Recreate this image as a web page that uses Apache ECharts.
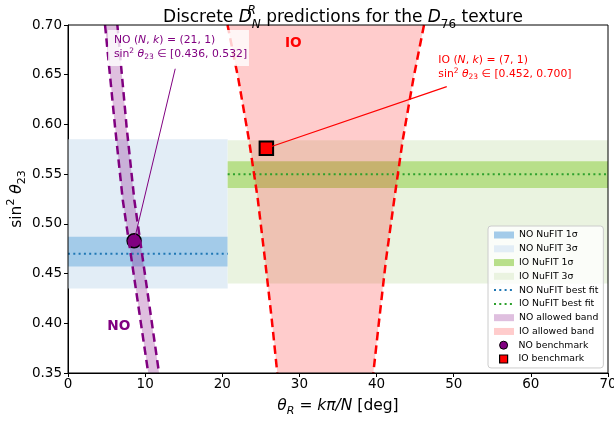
<!DOCTYPE html>
<html>
<head>
<meta charset="utf-8">
<script src="https://cdn.jsdelivr.net/npm/echarts@6/dist/echarts.min.js"></script>
<style>html,body{margin:0;padding:0;background:#fff}#chart{width:614px;height:424px}</style>
</head>
<body>
<div id="chart"></div>
<script>
// NuFIT bands [thetaFrom, thetaTo, low, high]
const noBand3 = [0, 20.7, 0.435, 0.585];
const noBand1 = [0, 20.7, 0.457, 0.487];
const ioBand3 = [20.7, 70, 0.440, 0.584];
const ioBand1 = [20.7, 70, 0.536, 0.563];
const noBest = [[0, 0.470], [20.7, 0.470]];
const ioBest = [[20.7, 0.550], [70, 0.550]];

// allowed bands: sin^2 theta23 levels and the theta edges at each level
const noLevels = [0.70, 0.5974, 0.524, 0.35];
const noLeft = [4.8, 6.1, 7.1, 10.4];
const noRight = [6.4, 7.6, 8.6, 11.8];
const ioLevels = [0.70, 0.645, 0.5843, 0.525, 0.4637, 0.405, 0.35];
const ioLeft = [20.68, 22.1, 23.46, 24.6, 25.54, 26.4, 27.13];
const ioRight = [46.15, 44.75, 43.39, 42.3, 41.22, 40.36, 39.58];

// benchmarks (theta = k*pi/N in deg, sin^2 theta23)
const noPoint = [8.571, 0.483];
const ioPoint = [25.714, 0.576];

// annotation anchors
const noArrow = [[13.9, 0.656], noPoint];
const ioArrow = [[49.1, 0.638], ioPoint];
const noNote = [5.95, 0.685];
const noNoteBox = [[5.19, 0.695], [23.46, 0.6588]];
const ioNote = [48.0, 0.665];
const noTag = [6.6, 0.397];
const ioTag = [29.2, 0.681];

const FONT = 'DejaVu Sans';
const purple = '#800080';
const red = '#ff0000';

var chart = echarts.init(document.getElementById('chart'));

function rectSeries(name, band, color) {
  return {
    name: name,
    type: 'custom',
    data: [band],
    silent: true,
    itemStyle: { color: color },
    renderItem: function (params, api) {
      var p0 = api.coord([api.value(0), api.value(3)]);
      var p1 = api.coord([api.value(1), api.value(2)]);
      return {
        type: 'rect',
        shape: { x: p0[0], y: p0[1], width: p1[0] - p0[0], height: p1[1] - p0[1] },
        style: { fill: color }
      };
    }
  };
}

function bandSeries(name, levels, left, right, color) {
  var pts = left.map((x, i) => [x, levels[i]])
    .concat(right.map((x, i) => [x, levels[i]]).reverse());
  return {
    name: name,
    type: 'custom',
    data: [0],
    silent: true,
    itemStyle: { color: color },
    renderItem: function (params, api) {
      return {
        type: 'polygon',
        shape: { points: pts.map(p => api.coord(p)) },
        style: { fill: color }
      };
    }
  };
}

function edgeSeries(levels, xs, color) {
  return {
    type: 'line',
    data: xs.map((x, i) => [x, levels[i]]),
    symbol: 'none',
    silent: true,
    lineStyle: { color: color, width: 2.5, type: [8.5, 5] }
  };
}

function lineSeries(name, data, color, width, dash) {
  return {
    name: name,
    type: 'line',
    data: data,
    symbol: 'none',
    silent: true,
    itemStyle: { color: color },
    lineStyle: { color: color, width: width, type: dash || 'solid' }
  };
}

const subRich = {
  it: { fontFamily: FONT, fontStyle: 'italic', fontSize: 15.5 },
  sub: { fontFamily: FONT, fontStyle: 'italic', fontSize: 11, verticalAlign: 'bottom' },
  subn: { fontFamily: FONT, fontSize: 11, verticalAlign: 'bottom' },
  sup: { fontFamily: FONT, fontSize: 11, verticalAlign: 'top' }
};

const option = {
  animation: false,
  title: {
    text: 'Discrete {it|D}{r|R}{n|N} predictions for the {it|D}{sub|76} texture',
    left: 338,
    top: 0,
    textAlign: 'center',
    textStyle: {
      fontFamily: FONT, fontSize: 17, fontWeight: 'normal', color: '#000', lineHeight: 26,
      rich: {
        it: { fontFamily: FONT, fontStyle: 'italic', fontSize: 17, color: '#000' },
        r: { fontFamily: FONT, fontStyle: 'italic', fontSize: 12, verticalAlign: 'top', width: 0, color: '#000' },
        n: { fontFamily: FONT, fontStyle: 'italic', fontSize: 12, verticalAlign: 'bottom', color: '#000' },
        sub: { fontFamily: FONT, fontSize: 12, verticalAlign: 'bottom', color: '#000' }
      }
    }
  },
  grid: {
    left: 68, right: 6, top: 25, bottom: 51,
    outerBoundsMode: 'none', containLabel: false,
    show: true, borderColor: '#000', borderWidth: 1, backgroundColor: 'transparent', z: 10
  },
  xAxis: {
    type: 'value', min: 0, max: 70, interval: 10,
    name: '{it|θ}{sub|R} = {it|kπ/N} [deg]',
    nameLocation: 'middle', nameGap: 22, nameMoveOverlap: false,
    nameTextStyle: { fontFamily: FONT, fontSize: 15.5, color: '#000', lineHeight: 22, rich: subRich },
    axisLine: { show: true, lineStyle: { color: '#000' } },
    axisTick: { show: true, length: 4, lineStyle: { color: '#000' } },
    axisLabel: { color: '#000', fontSize: 13.5, fontFamily: FONT, margin: 4 },
    splitLine: { show: false }
  },
  yAxis: {
    type: 'value', min: 0.35, max: 0.70, interval: 0.05,
    name: 'sin{sup|2} {it|θ}{subn|23}',
    nameLocation: 'middle', nameGap: 40, nameRotate: 90, nameMoveOverlap: false,
    nameTextStyle: { fontFamily: FONT, fontSize: 15.5, color: '#000', lineHeight: 22, rich: subRich },
    axisLine: { show: true, lineStyle: { color: '#000' } },
    axisTick: { show: true, length: 4, lineStyle: { color: '#000' } },
    axisLabel: { color: '#000', fontSize: 13.5, fontFamily: FONT, margin: 6, formatter: v => v.toFixed(2) },
    splitLine: { show: false }
  },
  legend: [{
    data: [
      { name: 'NO NuFIT 1σ', icon: 'rect', itemStyle: { color: '#a3cbe9' } },
      { name: 'NO NuFIT 3σ', icon: 'rect', itemStyle: { color: '#e2edf6' } },
      { name: 'IO NuFIT 1σ', icon: 'rect', itemStyle: { color: '#b8df8a' } },
      { name: 'IO NuFIT 3σ', icon: 'rect', itemStyle: { color: '#eaf3e0' } },
      { name: 'NO NuFIT best fit', itemStyle: { opacity: 0 } },
      { name: 'IO NuFIT best fit', itemStyle: { opacity: 0 } },
      { name: 'NO allowed band', icon: 'rect', itemStyle: { color: '#dfbfdf' } },
      { name: 'IO allowed band', icon: 'rect', itemStyle: { color: '#ffcccc' } }
    ],
    orient: 'vertical', left: 488, top: 226,
    padding: [3, 5, 30.5, 5],
    itemWidth: 20, itemHeight: 7, itemGap: 1.78,
    textStyle: { fontFamily: FONT, fontSize: 9.3, color: '#000', lineHeight: 12 },
    backgroundColor: 'rgba(255,255,255,0.8)', borderColor: '#cccccc', borderWidth: 1, borderRadius: 3,
    selectedMode: false
  }, {
    data: [
      { name: 'NO benchmark', icon: 'circle', itemStyle: { color: purple, borderColor: '#000', borderWidth: 1 } },
      { name: 'IO benchmark', icon: 'path://M0,0M20,8M6,0L14,0L14,8L6,8Z', itemStyle: { color: red, borderColor: '#000', borderWidth: 1.2 } }
    ],
    orient: 'vertical', left: 488, top: 339.2,
    padding: [0, 4, 0, 5],
    itemWidth: 20, itemHeight: 8, itemGap: 1.78,
    textStyle: { fontFamily: FONT, fontSize: 9.3, color: '#000', lineHeight: 12 },
    selectedMode: false
  }],
  series: [
    rectSeries('NO NuFIT 3σ', noBand3, '#e2edf6'),
    rectSeries('NO NuFIT 1σ', noBand1, '#a3cbe9'),
    rectSeries('IO NuFIT 3σ', ioBand3, '#eaf3e0'),
    rectSeries('IO NuFIT 1σ', ioBand1, '#b8df8a'),
    lineSeries('NO NuFIT best fit', noBest, '#1f77b4', 2, [2, 3.3]),
    lineSeries('IO NuFIT best fit', ioBest, '#2ca02c', 2, [2, 3.3]),
    bandSeries('NO allowed band', noLevels, noLeft, noRight, 'rgba(128,0,128,0.25)'),
    bandSeries('IO allowed band', ioLevels, ioLeft, ioRight, 'rgba(255,0,0,0.2)'),
    edgeSeries(noLevels, noLeft, purple),
    edgeSeries(noLevels, noRight, purple),
    edgeSeries(ioLevels, ioLeft, red),
    edgeSeries(ioLevels, ioRight, red),
    lineSeries('', noArrow, purple, 1),
    lineSeries('', ioArrow, red, 1.2),
    {
      name: 'NO benchmark', type: 'scatter', data: [noPoint], symbol: 'circle', symbolSize: 14,
      itemStyle: { color: purple, borderColor: '#000', borderWidth: 1.5, opacity: 1 }, silent: true
    },
    {
      name: 'IO benchmark', type: 'scatter', data: [ioPoint], symbol: 'rect', symbolSize: 13.5,
      itemStyle: { color: red, borderColor: '#000', borderWidth: 2, opacity: 1 }, silent: true
    }
  ]
};

chart.setOption(option);

// annotations placed through the chart's own coordinate system
const px = p => chart.convertToPixel({ gridIndex: 0 }, p);
const noteRich = function (color) {
  return {
    i: { fontFamily: FONT, fontStyle: 'italic', fontSize: 10.8, fill: color },
    sup: { fontFamily: FONT, fontSize: 7.5, verticalAlign: 'top', fill: color },
    sub: { fontFamily: FONT, fontSize: 7.5, verticalAlign: 'bottom', fill: color }
  };
};
const b0 = px(noNoteBox[0]), b1 = px(noNoteBox[1]);
const nn = px(noNote), io = px(ioNote), nt = px(noTag), it = px(ioTag);

chart.setOption({
  graphic: [
    {
      type: 'rect', z: 20,
      shape: { x: b0[0], y: b0[1], width: b1[0] - b0[0], height: b1[1] - b0[1] },
      style: { fill: 'rgba(255,255,255,0.8)' }
    },
    {
      type: 'text', z: 21, x: nn[0], y: nn[1] - 7,
      style: {
        text: 'NO ({i|N}, {i|k}) = (21, 1)\nsin{sup|2} {i|θ}{sub|23} ∈ [0.436, 0.532]',
        fontFamily: FONT, fontSize: 10.8, fill: purple, lineHeight: 14,
        verticalAlign: 'top', align: 'left', rich: noteRich(purple)
      }
    },
    {
      type: 'text', z: 21, x: io[0], y: io[1] - 7,
      style: {
        text: 'IO ({i|N}, {i|k}) = (7, 1)\nsin{sup|2} {i|θ}{sub|23} ∈ [0.452, 0.700]',
        fontFamily: FONT, fontSize: 10.8, fill: red, lineHeight: 14,
        verticalAlign: 'top', align: 'left', rich: noteRich(red)
      }
    },
    {
      type: 'text', z: 21, x: nt[0], y: nt[1],
      style: { text: 'NO', fontFamily: FONT, fontSize: 13.7, fontWeight: 'bold', fill: purple, align: 'center', verticalAlign: 'middle' }
    },
    {
      type: 'text', z: 21, x: it[0], y: it[1],
      style: { text: 'IO', fontFamily: FONT, fontSize: 13.7, fontWeight: 'bold', fill: red, align: 'center', verticalAlign: 'middle' }
    }
  ]
});
</script>
</body>
</html>
